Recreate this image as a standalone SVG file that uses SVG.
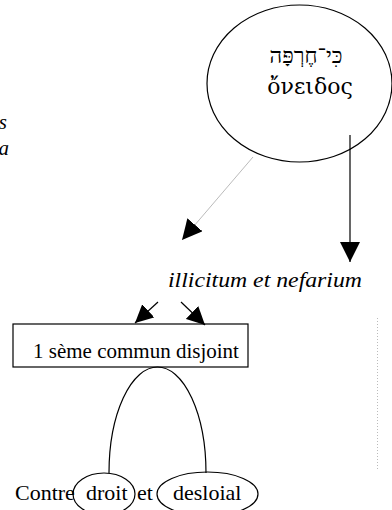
<svg xmlns="http://www.w3.org/2000/svg" width="392" height="510" viewBox="0 0 392 510">
<style>
  .shape { fill: none; stroke: #000; stroke-width: 1.2; }
  .conn { fill: none; stroke: #000; stroke-width: 1.2; }
  .faint { fill: none; stroke: #bbb; stroke-width: 1; }
</style>
<defs>
  <marker id="ah" viewBox="0 0 20 20" refX="20" refY="10" markerWidth="20" markerHeight="20" markerUnits="userSpaceOnUse" orient="auto">
    <path d="M0,0 L20,10 L0,20 z" fill="#000"/>
  </marker>
  <marker id="ahs" viewBox="0 0 20 20" refX="20" refY="10" markerWidth="18" markerHeight="18" markerUnits="userSpaceOnUse" orient="auto">
    <path d="M0,0 L20,10 L0,20 z" fill="#000"/>
  </marker>
</defs>

<g id="left-fragment">
  <text font-family="Liberation Serif" font-style="italic" x="7" y="129" font-size="21" text-anchor="end">s</text>
  <text font-family="Liberation Serif" font-style="italic" x="9" y="155" font-size="21" text-anchor="end">a</text>
</g>

<g id="node-oneidos">
  <ellipse class="shape" cx="299.5" cy="83.5" rx="92.5" ry="78.5"/>
  <text font-family="Liberation Serif" x="306" y="63" font-size="22" text-anchor="middle">כִּי־חֶרְפָּה</text>
  <text font-family="DejaVu Serif" x="310" y="94" font-size="22" text-anchor="middle">ὄνειδος</text>
</g>

<g id="node-illicitum">
  <text font-family="Liberation Serif" font-style="italic" x="168" y="287" font-size="22" textLength="194" lengthAdjust="spacingAndGlyphs">illicitum et nefarium</text>
</g>

<g id="node-seme">
  <rect class="shape" x="13" y="324" width="235" height="43" fill="#fff"/>
  <text font-family="Liberation Serif" x="33" y="358" font-size="21">1 sème commun disjoint</text>
</g>

<g id="node-contre">
  <text font-family="Liberation Serif" x="15" y="500" font-size="22">Contre</text>
</g>
<g id="node-droit">
  <ellipse class="shape" cx="104" cy="494" rx="31" ry="21"/>
  <text font-family="Liberation Serif" x="86" y="500" font-size="22">droit</text>
</g>
<g id="node-et">
  <text font-family="Liberation Serif" x="137" y="500" font-size="22">et</text>
</g>
<g id="node-desloial">
  <ellipse class="shape" cx="207.5" cy="494" rx="50.5" ry="22"/>
  <text font-family="Liberation Serif" x="173" y="500" font-size="22">desloial</text>
</g>

<g id="connectors">
  <line class="faint" x1="253" y1="157" x2="182" y2="240" marker-end="url(#ah)"/>
  <line class="conn" x1="350" y1="135" x2="350" y2="262" marker-end="url(#ah)"/>
  <line class="conn" x1="158" y1="302" x2="135" y2="323" marker-end="url(#ahs)"/>
  <line class="conn" x1="181" y1="302" x2="205" y2="325" marker-end="url(#ahs)"/>
  <path class="conn" d="M109,473 A48.5,106 0 0 1 206,473"/>
  <line x1="377.5" y1="318" x2="377.5" y2="470" stroke="#bbb" stroke-width="1" stroke-dasharray="1 2"/>
</g>
</svg>
